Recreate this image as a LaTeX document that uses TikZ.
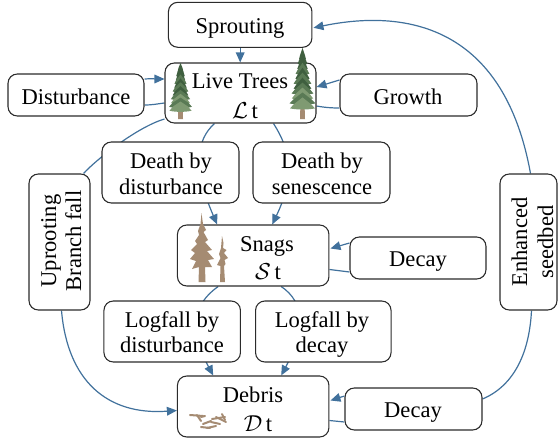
\documentclass[tikz,border=0pt]{standalone}
\usepackage{fontspec}
\setmainfont{Liberation Serif}
\usetikzlibrary{arrows.meta,backgrounds}
\definecolor{linkblue}{HTML}{41719C}
\definecolor{boxline}{HTML}{2B2B2B}
\definecolor{leafdark}{HTML}{3F5F3F}
\definecolor{leafmid}{HTML}{5A7A55}
\definecolor{leaflight}{HTML}{7F9A72}
\definecolor{barkbrown}{HTML}{A58B72}
\tikzset{
  box/.style={draw=boxline,fill=white,rounded corners=7,line width=0.8pt,inner sep=0pt,
    font=\fontsize{16.9}{19.5}\selectfont,align=center},
  lbl/.style={inner sep=0pt,anchor=base,font=\fontsize{16.9}{19.5}\selectfont},
  sym/.style={inner sep=0pt,anchor=base,font=\fontsize{17}{20}\selectfont},
  link/.style={draw=linkblue,line width=0.9pt},
  arrowlink/.style={link,-{Triangle[length=7.5pt,width=6.5pt]}},
  bark/.style={fill=barkbrown,draw=none},
}
% conifer: centre x, top y, foot y, half width
\newcommand{\drawconifer}[4]{%
  \pgfmathsetmacro{\crownend}{#3-0.2*(#3-#2)}
  \fill[barkbrown] (#1-2,\crownend-3) -- (#1+2,\crownend-3) -- (#1+2.5,#3) -- (#1-2.5,#3) -- cycle;
  \foreach \k/\c in {0/leafdark,1/leafdark,2/leafdark,3/leafmid,4/leafdark,5/leafmid,6/leafdark,7/leafmid,8/leaflight,9/leafmid,10/leaflight}{
    \pgfmathsetmacro{\ytop}{#2+(\crownend-#2)*\k/11-3}
    \pgfmathsetmacro{\ybot}{#2+(\crownend-#2)*(\k+1.6)/11}
    \pgfmathsetmacro{\wd}{#4*(0.2+0.8*(\k+1)/11)*(1+0.12*mod(\k,2))}
    \fill[\c] (#1,\ytop) -- (#1+0.7*\wd,\ybot-4) -- (#1+\wd,\ybot)
       .. controls (#1+0.5*\wd,\ybot+1.5) and (#1-0.5*\wd,\ybot+1.5) .. (#1-\wd,\ybot)
       -- (#1-0.7*\wd,\ybot-4) -- cycle;
  }
}
\begin{document}
\begin{tikzpicture}[x=0.75pt,y=-0.75pt,every node/.append style={text=black}]
\useasboundingbox (0,0) rectangle (558,439);
% boxes
\node[box,minimum width=143.5*0.75pt,minimum height=45*0.75pt] (sprout) at (240.2,24.8) {};
\node[box,minimum width=151*0.75pt,minimum height=60*0.75pt] (live) at (240.5,93) {};
\node[box,minimum width=136*0.75pt,minimum height=42*0.75pt] (dist) at (76,95) {};
\node[box,minimum width=137*0.75pt,minimum height=42*0.75pt] (growth) at (408.5,95) {};
\node[box,minimum width=137*0.75pt,minimum height=61*0.75pt] (ddist) at (170.5,172.5) {};
\node[box,minimum width=137*0.75pt,minimum height=61*0.75pt] (dsen) at (321.5,172.5) {};
\node[box,minimum width=151.5*0.75pt,minimum height=61*0.75pt] (snags) at (253.2,255.5) {};
\node[box,minimum width=136*0.75pt,minimum height=42*0.75pt] (decayA) at (418,258) {};
\node[box,minimum width=136.5*0.75pt,minimum height=61*0.75pt] (ldist) at (172.2,331.5) {};
\node[box,minimum width=135.5*0.75pt,minimum height=61*0.75pt] (ldecay) at (323.3,331.5) {};
\node[box,minimum width=151.5*0.75pt,minimum height=61*0.75pt] (debris) at (253.2,406.5) {};
\node[box,minimum width=137*0.75pt,minimum height=42*0.75pt] (decayB) at (413.5,409) {};
\node[box,minimum width=61*0.75pt,minimum height=136*0.75pt] (uproot) at (59.5,242) {};
\node[box,minimum width=57*0.75pt,minimum height=136*0.75pt] (seed) at (528.5,242) {};
% box texts
\node[lbl] (tsprout) at (240,33) {Sprouting};
\node[lbl] (tlive) at (240,89) {Live Trees};
\node[sym] (tL) at (245,118) {$\mathcal{L}$\,t};
\node[lbl] (tdist) at (76,104) {Disturbance};
\node[lbl] (tgrowth) at (408,104) {Growth};
\node[lbl] (td1a) at (171,168.5) {Death by};
\node[lbl] (td1b) at (171,194) {disturbance};
\node[lbl] (td2a) at (322,168.5) {Death by};
\node[lbl] (td2b) at (322,194) {senescence};
\node[lbl] (tsnags) at (267,251) {Snags};
\node[sym] (tS) at (268,279) {$\mathcal{S}$\,t};
\node[lbl] (tdecayA) at (418,266.5) {Decay};
\node[lbl] (tl1a) at (172,327.5) {Logfall by};
\node[lbl] (tl1b) at (172,352) {disturbance};
\node[lbl] (tl2a) at (322,327.5) {Logfall by};
\node[lbl] (tl2b) at (322,352) {decay};
\node[lbl] (tdebris) at (253,402) {Debris};
\node[sym] (tD) at (258,431) {$\mathcal{D}$\,t};
\node[lbl] (tdecayB) at (413,417) {Decay};
\node[lbl,rotate=90] (tu1) at (56,241) {Uprooting};
\node[lbl,rotate=90] (tu2) at (81,241) {Branch fall};
\node[lbl,rotate=90] (ts1) at (527,242) {Enhanced};
\node[lbl,rotate=90] (ts2) at (553,242) {seedbed};
% connectors behind boxes
\begin{scope}[on background layer]
\draw[arrowlink] (sprout.south) -- (sprout.south |- live.north);
\draw[arrowlink] ([shift={(0,-16)}]dist.east) .. controls +(8,-0.5) and +(-8,0) .. ([shift={(0,-14)}]live.west);
\draw[link] ([shift={(0,10)}]live.west) .. controls +(-8,1) and +(8,0) .. ([shift={(0,10)}]dist.east);
\draw[arrowlink] ([shift={(0,-15)}]growth.west) -- ([shift={(0,-6)}]live.east);
\draw[link] ([shift={(0,13)}]live.east) .. controls +(8,1.5) and +(-8,0) .. ([shift={(0,13)}]growth.west);
\draw[arrowlink] ([shift={(-26,0)}]live.south) .. controls +(-19,17) and +(-24,-55) .. ([shift={(-36,0)}]snags.north);
\draw[arrowlink] ([shift={(33,0)}]live.south) .. controls +(16,25) and +(24,-50) .. ([shift={(19,0)}]snags.north);
\draw[arrowlink] ([shift={(-35,0)}]snags.south) .. controls +(-26,18) and +(-24,-45) .. ([shift={(-40,0)}]debris.north);
\draw[arrowlink] ([shift={(28,0)}]snags.south) .. controls +(24,16) and +(24,-45) .. ([shift={(28,0)}]debris.north);
\draw[arrowlink] ([shift={(0,-15)}]decayA.west) -- ([shift={(1,-7)}]snags.east);
\draw[link] ([shift={(0,14)}]snags.east) -- ([shift={(0,14)}]decayA.west);
\draw[arrowlink] ([shift={(0,-13)}]decayB.west) -- ([shift={(1,-6)}]debris.east);
\draw[link] ([shift={(0,14)}]debris.east) -- ([shift={(0,13)}]decayB.west);
\draw[link] ([shift={(0,26)}]live.west) .. controls +(-27,8) and +(14,-15) .. ([shift={(24,0)}]uproot.north);
\draw[arrowlink] ([shift={(2,0)}]uproot.south) .. controls +(6,70) and +(-70,5) .. ([shift={(0,4)}]debris.west);
\draw[arrowlink] ([shift={(2,0)}]seed.north) .. controls +(-26,-144) and +(97,-20) .. ([shift={(1,3)}]sprout.east);
\draw[link] ([shift={(3,0)}]seed.south) .. controls +(-2,40) and +(33,-14) .. ([shift={(0,-10)}]decayB.east);
\end{scope}
% live trees
\drawconifer{180.5}{66}{119}{11}
\drawconifer{302.5}{51}{119}{12.5}
% snags
\fill[bark] (201.5,213) -- (203,224) -- (206,230) -- (203.5,232) -- (208,240) -- (205,242) -- (212,250)
  -- (207,251) -- (214,259) -- (208,260) -- (212,267) -- (205,267) -- (205.5,282) -- (198.5,282) -- (199,267)
  -- (192,269) -- (196,261) -- (190,259) -- (195,253) -- (191,250) -- (197,244) -- (195,241) -- (199,235)
  -- (198,231) -- (200.5,224) -- cycle;
\fill[bark] (222,236) -- (223.5,243) -- (223,248) -- (226.5,250) -- (224,253) -- (228,258) -- (224.5,260)
  -- (225.5,264) -- (224,266) -- (225,282) -- (220,282) -- (220.5,266) -- (217,265) -- (220.5,258) -- (219,254)
  -- (221,248) -- cycle;
% debris
\begin{scope}[draw=barkbrown,line width=1.5pt,line cap=round]
\draw (190,415) -- (203,416);
\draw (197,415) -- (201,421);
\draw (201,417) -- (205,416);
\draw (203,424) -- (211,421);
\draw (207,428) -- (216,426);
\draw (201,427) -- (210,428);
\draw (212,419) -- (225,417);
\draw (216,417) -- (226,422);
\draw (211,422) -- (220,424);
\draw (222,414) -- (225,420);
\end{scope}
\end{tikzpicture}
\end{document}
